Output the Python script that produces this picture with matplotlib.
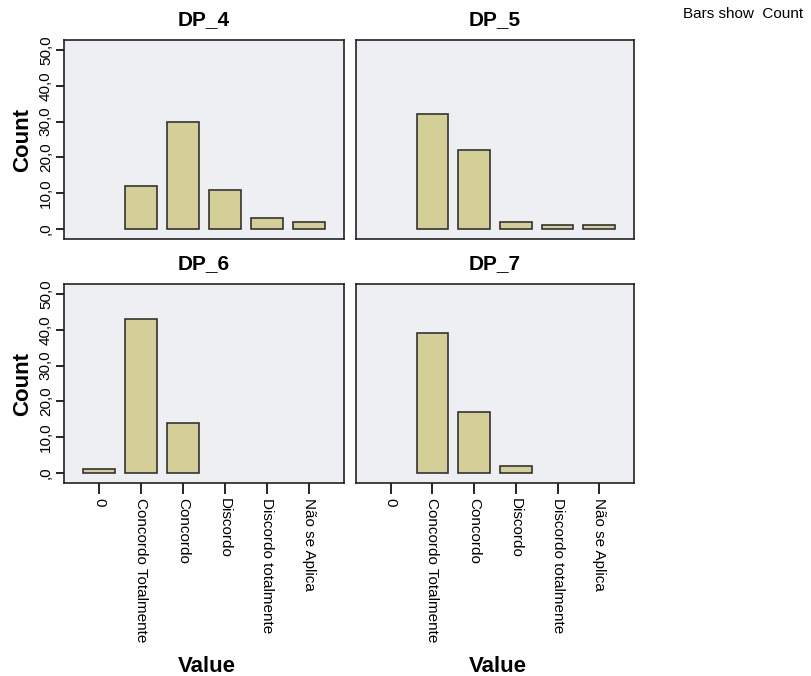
import matplotlib
matplotlib.use("Agg")
import matplotlib.pyplot as plt
from matplotlib.ticker import FuncFormatter

plt.rcParams['font.family'] = ['Liberation Sans', 'DejaVu Sans']

categories = ["0", "Concordo Totalmente", "Concordo", "Discordo", "Discordo totalmente", "Não se Aplica"]
titles = ["DP_4", "DP_5", "DP_6", "DP_7"]
dp4 = [0, 12, 30, 11, 3, 2]
dp5 = [0, 32, 22, 2, 1, 1]
dp6 = [1, 43, 14, 0, 0, 0]
dp7 = [0, 39, 17, 2, 0, 0]
yticks = [0, 10, 20, 30, 40, 50]

series = [dp4, dp5, dp6, dp7]

fig = plt.figure(figsize=(8.11, 6.76), dpi=100)
W, H = 811, 676
boxes = [(64, 40, 344, 239), (356, 40, 634, 239), (64, 284, 344, 483), (356, 284, 634, 483)]

def fmt(v, pos):
    if v == 0:
        return ",0"
    return ("%.1f" % v).replace(".", ",")

bar_color = "#D3CF97"
edge = "#333333"
bg = "#EEEFF2"

for i, (vals, title, (x0, y0, x1, y1)) in enumerate(zip(series, titles, boxes)):
    ax = fig.add_axes([x0 / W, 1 - y1 / H, (x1 - x0) / W, (y1 - y0) / H])
    ax.set_facecolor(bg)
    xs = list(range(len(categories)))
    lws = [1.2 if v > 0 else 0 for v in vals]
    ax.bar(xs, vals, width=0.76, color=bar_color, edgecolor=edge, linewidth=lws)
    ax.set_xlim(-0.83, 5.83)
    ax.set_ylim(-2.8, 52.8)
    for s in ax.spines.values():
        s.set_linewidth(1.2)
        s.set_color("#222222")
    ax.set_title(title, fontsize=15, fontweight='bold', pad=11)
    col = i % 2
    row = i // 2
    if col == 0:
        ax.set_yticks(yticks)
        ax.yaxis.set_major_formatter(FuncFormatter(fmt))
        ax.tick_params(axis='y', direction='out', length=6, width=1.2, labelsize=11, pad=2)
        for lab in ax.get_yticklabels():
            lab.set_rotation(90)
            lab.set_va('center')
        ax.set_ylabel("Count", fontsize=16, fontweight='bold', labelpad=4)
    else:
        ax.set_yticks([])
    if row == 1:
        ax.set_xticks(xs)
        ax.set_xticklabels(categories, rotation=270, fontsize=11, va='top', ha='center')
        ax.tick_params(axis='x', direction='out', length=8, width=1.2, pad=3)
        fig.text((x0 + x1) / 2 / W + 3 / W, 1 - 667 / H, "Value", fontsize=16,
                 fontweight='bold', ha='center', va='center')
    else:
        ax.set_xticks([])

fig.text(683 / W, 1 - 14 / H, "Bars show  Count", fontsize=11, ha='left', va='center')

fig.savefig("out.png", dpi=100)
